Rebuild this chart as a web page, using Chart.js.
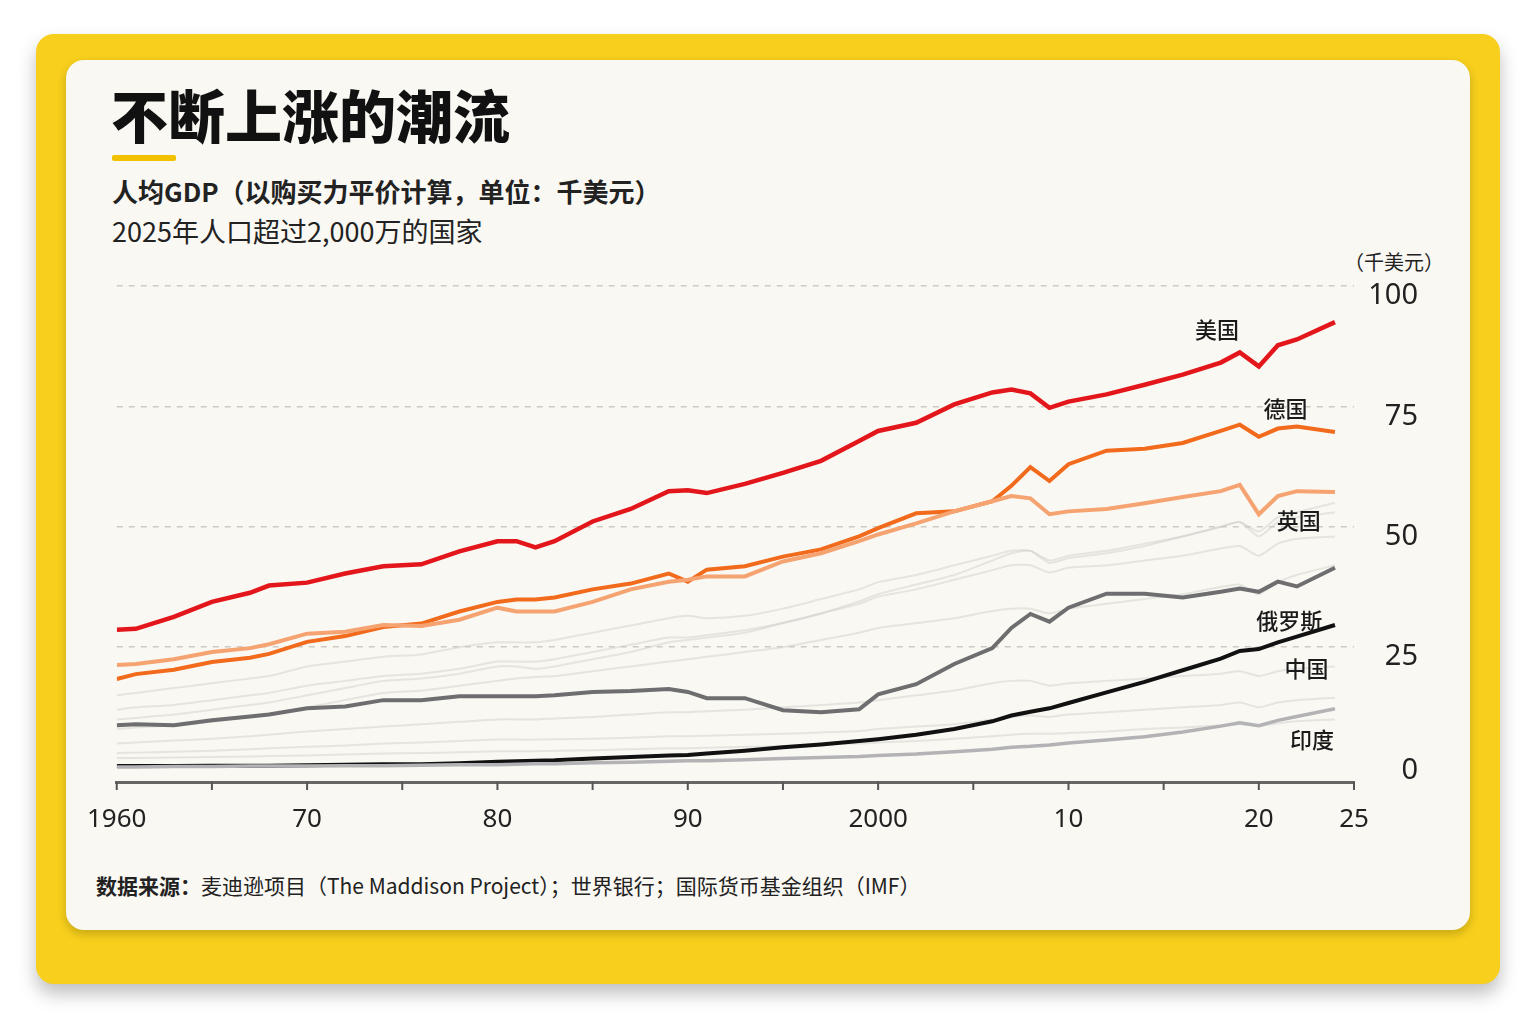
<!DOCTYPE html>
<html>
<head>
<meta charset="utf-8">
<script src="https://cdn.jsdelivr.net/npm/chart.js@4"></script>
<style>
  body { margin: 0; width: 1537px; height: 1023px; background: #ffffff; font-family: "Noto Sans CJK SC", "Noto Sans", sans-serif; overflow: hidden; }
  .outer { position: absolute; left: 36px; top: 34px; width: 1464px; height: 950px; background: #f7cf1c; border-radius: 18px; box-shadow: 0 10px 18px rgba(0,0,0,0.25); }
  .card { position: absolute; left: 66px; top: 60px; width: 1404px; height: 870px; background: #faf8f3; border-radius: 18px; box-shadow: 0 4px 10px rgba(0,0,0,0.2); }
  .title { position: absolute; left: 111px; top: 72px; font-size: 57px; font-weight: 900; color: #111; }
  .bar { position: absolute; left: 112px; top: 155px; width: 64px; height: 6px; background: #f2c200; border-radius: 2px; }
  .sub1 { position: absolute; left: 112px; top: 172px; font-size: 26px; font-weight: 700; color: #222; }
  .sub2 { position: absolute; left: 112px; top: 211px; font-size: 27px; color: #222; }
  .unit { position: absolute; left: 1344px; top: 247px; font-size: 20px; color: #222; }
  .src { position: absolute; left: 96px; top: 870px; font-size: 21px; color: #222; }
  #wrap { position: absolute; left: 73px; top: 240px; width: 1345px; height: 620px; }
</style>
</head>
<body>
<div class="outer"></div>
<div class="card"></div>
<div class="title">不断上涨的潮流</div>
<div class="bar"></div>
<div class="sub1">人均GDP（以购买力平价计算，单位：千美元）</div>
<div class="sub2">2025年人口超过2,000万的国家</div>
<div class="unit">（千美元）</div>
<div class="src"><b>数据来源：</b>麦迪逊项目（The Maddison Project）；世界银行；国际货币基金组织（IMF）</div>
<div id="wrap"><canvas id="myChart"></canvas></div>
<script>
const years = [1960,1961,1963,1965,1967,1968,1970,1972,1974,1976,1978,1980,1981,1982,1983,1985,1987,1989,1990,1991,1993,1995,1997,1999,2000,2002,2004,2006,2007,2008,2009,2010,2012,2014,2016,2018,2019,2020,2021,2022,2024];
const usa = [28.6,28.8,31.3,34.4,36.3,37.8,38.4,40.3,41.8,42.2,44.9,47.0,47.0,45.7,47.0,51.1,53.7,57.4,57.6,57.0,58.9,61.2,63.7,67.8,69.9,71.6,75.4,77.9,78.5,77.7,74.7,76.0,77.5,79.5,81.6,84.1,86.2,83.3,87.7,88.9,92.5];
const germany = [18.4,19.4,20.3,21.9,22.8,23.6,26.1,27.3,29.2,29.9,32.4,34.4,34.9,34.9,35.3,37.0,38.2,40.3,38.6,41.1,41.8,43.8,45.3,48.0,49.7,52.8,53.2,55.3,58.5,62.4,59.5,63.0,65.8,66.2,67.4,69.9,71.2,68.7,70.4,70.8,69.7];
const uk = [21.3,21.5,22.5,24.0,24.8,25.6,27.8,28.2,29.6,29.4,30.7,33.2,32.4,32.4,32.4,34.4,37.0,38.6,39.0,39.7,39.7,42.8,44.5,47.0,48.4,50.7,53.2,55.3,56.4,55.9,52.6,53.2,53.7,54.9,56.2,57.4,58.7,52.6,56.4,57.4,57.2];
const russia = [8.8,9.0,8.8,9.8,10.6,11.0,12.3,12.7,14.0,14.0,14.8,14.8,14.8,14.8,15.0,15.7,15.9,16.3,15.7,14.4,14.4,11.9,11.5,12.1,15.2,17.3,21.5,24.8,29.0,31.9,30.3,33.2,36.1,36.1,35.3,36.5,37.2,36.5,38.6,37.6,41.5];
const china = [0.3,0.3,0.3,0.4,0.4,0.4,0.5,0.6,0.7,0.7,0.9,1.2,1.3,1.4,1.5,1.9,2.2,2.5,2.6,2.9,3.5,4.2,4.8,5.5,5.9,6.8,8.0,9.6,10.8,11.6,12.3,13.4,15.6,17.8,20.2,22.6,24.2,24.6,26.0,27.2,29.6];
const india = [0.1,0.1,0.2,0.2,0.3,0.3,0.3,0.4,0.4,0.5,0.6,0.6,0.7,0.8,0.8,1.0,1.1,1.3,1.4,1.4,1.6,1.9,2.1,2.3,2.5,2.8,3.3,3.8,4.2,4.4,4.7,5.1,5.7,6.4,7.4,8.6,9.3,8.7,9.8,10.6,12.2];
// faint background countries
const bg1 = [12,12.5,13,14,15,15.5,17,18,19,19.5,20.5,22,22,22,22.5,24,25.5,27,27,27.5,28.5,30,32,34.5,36,38,40,43,44.5,45,42.5,43.5,44.5,46,48,50,51,48,51,52,53];
const bg2 = [15,15.5,16.5,17.5,18.5,19,21,22,23,23.5,25,26,26,26,26.5,28,29.5,31,31.5,31,31.5,33,35,37,38.5,40,42,44,45,45,43,44,45,46.5,48,50,51,49,52,53,55];
const bg3 = [5,5.2,5.6,6,6.5,6.8,7.5,8,8.5,9,9.5,10,10,10,10.2,10.5,11,11.5,11.5,11.7,12,12.5,13,13.5,14,15,16,17.5,18,18,17,17.5,18,18.5,19,19.5,20,19,20,20.5,21];
const bg4 = [3,3.1,3.3,3.5,3.8,4,4.3,4.6,5,5.2,5.5,5.8,5.8,5.8,5.9,6,6.2,6.5,6.5,6.6,6.8,7,7.3,7.6,8,8.5,9,10,10.5,10.8,10.5,11,11.5,12,12.5,13,13.5,12.5,13.5,14,14.5];
const bg5 = [8,8.3,8.8,9.5,10.5,11,12.5,14,15.5,16,17,18,18.5,18.8,19,20,21,22,22.5,23,24,25,26.5,28,29,30,31,32.5,33,33,32,33,34,35,36,37.5,38,36,38.5,40,42];
const bg6 = [2,2,2.1,2.2,2.3,2.4,2.5,2.7,2.9,3,3.2,3.4,3.4,3.4,3.5,3.6,3.8,4,4,4.1,4.3,4.5,4.8,5,5.2,5.5,6,6.5,6.8,7,7,7.2,7.5,8,8.3,8.8,9,8.6,9.2,9.6,10];
const bg7 = [10,10.3,11,12,13,13.5,15,16.5,18,18.5,19.5,21,21,20.5,21,22.5,24,26,26.5,27,28,30,32,34,35.5,37,39,41,42,42,40.5,41.5,42,43,44,45.5,46,44,46.5,47.5,48];
const labels = [
  { text: "美国", year: 2017.8, value: 91 },
  { text: "德国", year: 2021.4, value: 74.5 },
  { text: "英国", year: 2022.1, value: 51.2 },
  { text: "俄罗斯", year: 2021.6, value: 30.6 },
  { text: "中国", year: 2022.5, value: 20.6 },
  { text: "印度", year: 2022.8, value: 5.8 }
];
const xTicks = [1960, 1970, 1980, 1990, 2000, 2010, 2020, 2025];
const xTickText = ["1960", "70", "80", "90", "2000", "10", "20", "25"];
const yTicks = [0, 25, 50, 75, 100];

function pts(arr) { return arr.map((v, i) => ({ x: years[i], y: v })); }
function bgSet(arr) {
  return { data: pts(arr), borderColor: "rgba(205,205,200,0.45)", borderWidth: 2, pointRadius: 0, tension: 0.2, order: 10 };
}
function mainSet(arr, color, w) {
  return { data: pts(arr), borderColor: color, borderWidth: w, pointRadius: 0, tension: 0, order: 1 };
}

const labelPlugin = {
  id: "labels",
  afterDatasetsDraw(chart) {
    const ctx = chart.ctx, xs = chart.scales.x, ys = chart.scales.y;
    ctx.save();
    ctx.fillStyle = "#1a1a1a";
    ctx.font = "500 22px 'Noto Sans CJK SC'";
    ctx.textAlign = "center";
    ctx.textBaseline = "middle";
    labels.forEach(l => ctx.fillText(l.text, xs.getPixelForValue(l.year), ys.getPixelForValue(l.value)));
    // y tick labels, sitting a little below their grid lines
    ctx.font = "29px 'Noto Sans'";
    ctx.textAlign = "right";
    ctx.fillStyle = "#222";
    yTicks.forEach(v => ctx.fillText(String(v), ys.right, ys.getPixelForValue(v) + (v === 0 ? 3 : 10)));
    // small ticks every 5 years below the axis
    ctx.strokeStyle = "#555";
    ctx.lineWidth = 2;
    for (let yr = 1960; yr <= 2025; yr += 5) {
      const px = xs.getPixelForValue(yr);
      ctx.beginPath();
      ctx.moveTo(px, ys.bottom);
      ctx.lineTo(px, ys.bottom + 8);
      ctx.stroke();
    }
    ctx.restore();
  }
};

const config = {
  type: "line",
  data: {
    datasets: [
      bgSet(bg1), bgSet(bg2), bgSet(bg3), bgSet(bg4), bgSet(bg5), bgSet(bg6), bgSet(bg7),
      mainSet(india, "#b3b3b6", 3.5),
      mainSet(china, "#111111", 4),
      mainSet(russia, "#6e6e70", 4),
      mainSet(uk, "#f6a372", 4),
      mainSet(germany, "#f26a1b", 4),
      mainSet(usa, "#e3171b", 4.5)
    ]
  },
  options: {
    responsive: true,
    maintainAspectRatio: false,
    animation: false,
    layout: { padding: { left: 0, top: 46, right: 0, bottom: 0 } },
    plugins: { legend: { display: false }, tooltip: { enabled: false } },
    scales: {
      x: {
        type: "linear", min: 1960, max: 2025,
        afterBuildTicks: s => { s.ticks = xTicks.map(v => ({ value: v })); },
        afterFit: s => { s.height = 78; },
        ticks: { callback: v => xTickText[xTicks.indexOf(v)], color: "#222", font: { size: 26, family: "Noto Sans" }, padding: 14, maxRotation: 0 },
        grid: { display: false },
        border: { color: "#666", width: 3 }
      },
      y: {
        position: "right", min: -3, max: 100,
        afterBuildTicks: s => { s.ticks = yTicks.map(v => ({ value: v })); },
        afterFit: s => { s.width = 64; },
        ticks: { display: false },
        grid: { color: c => c.tick && c.tick.value === 0 ? "rgba(0,0,0,0)" : "#cfcac2", lineWidth: 1.5, drawTicks: false },
        border: { display: false, dash: [6, 6] }
      }
    }
  },
  plugins: [labelPlugin]
};

new Chart(document.getElementById("myChart"), config);
</script>
</body>
</html>
